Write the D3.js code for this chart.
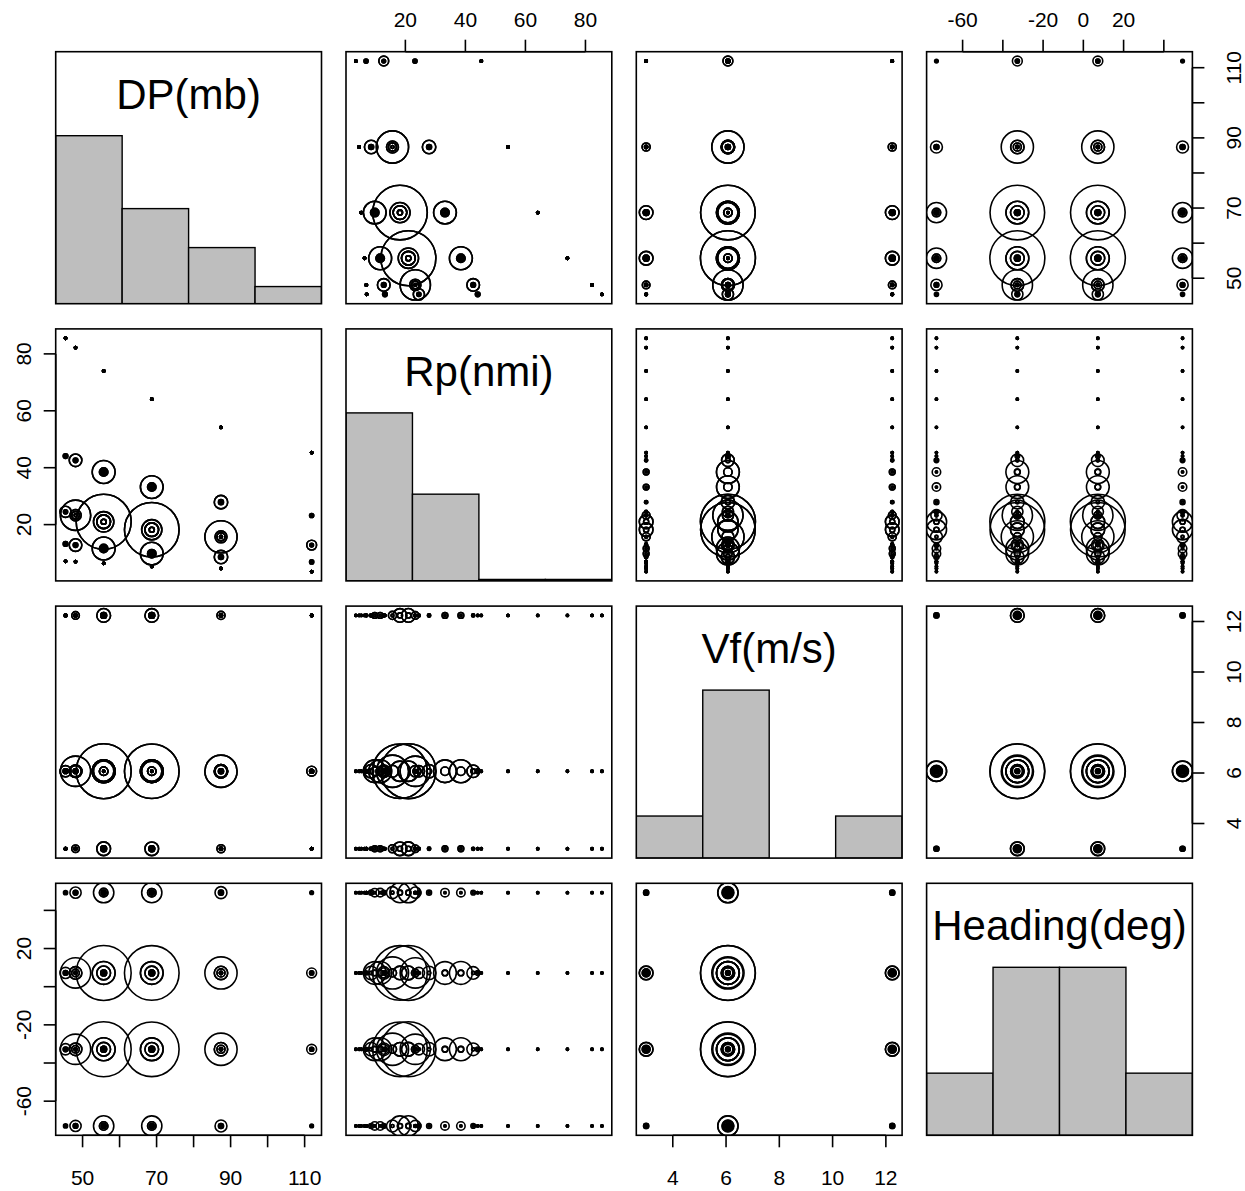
<!DOCTYPE html>
<html>
<head>
<meta charset="utf-8">
<script src="https://cdn.jsdelivr.net/npm/d3@7"></script>
<style>
  body { margin: 0; background: #fff; }
  svg { display: block; }
  text { font-family: "Liberation Sans", Arial, Helvetica, sans-serif; fill: #000; }
</style>
</head>
<body>
<svg id="chart" width="1245" height="1191"></svg>
<script>
// ---- Storm parameter levels and their probability weights ----
const varLabels = ["DP(mb)", "Rp(nmi)", "Vf(m/s)", "Heading(deg)"];

// Central pressure deficit
const dpLevels = [45.4, 48.1, 55.7, 68.7, 87.4, 111.9];
const dpProb   = [0.058, 0.157, 0.285, 0.283, 0.167, 0.051];

// Radius to maximum winds for each DP level (very large, large, median, small, very small)
const rpLevels = [
  [85.5, 44.1, 24.5, 13.2, 7.1],
  [82.2, 42.6, 23.3, 12.8, 7.0],
  [74.0, 38.5, 21.0, 11.6, 6.4],
  [64.1, 33.2, 18.2,  9.8, 5.3],
  [54.2, 27.9, 15.7,  8.6, 4.6],
  [45.3, 23.2, 12.8,  6.9, 3.5]
];
const rpProb = [0.0113, 0.2221, 0.5333, 0.2221, 0.0113];

// Forward speed
const vfLevels = [3.0, 6.07, 12.24];
const vfProb   = [0.167, 0.667, 0.167];

// Track heading
const headingLevels = [-73.0, -32.8, 7.2, 49.3];
const headingProb   = [0.135, 0.365, 0.365, 0.135];

// ---- Axis ticks (blank entries are ticks without a label) ----
const dpTicks = [50, 60, 70, 80, 90, 100, 110];
const dpTickLabels = ["50", "", "70", "", "90", "", "110"];
const rpTicks = [20, 40, 60, 80];
const rpTickLabels = ["20", "40", "60", "80"];
const vfTicks = [4, 6, 8, 10, 12];
const vfTickLabels = ["4", "6", "8", "10", "12"];
const headingTicks = [-60, -40, -20, 0, 20, 40];
const headingTopLabels = ["-60", "", "-20", "0", "20", ""];
const headingLeftLabels = ["-60", "", "-20", "", "20", ""];

// ---- Storm set: every combination of the parameter levels ----
const storms = [];
dpLevels.forEach((dp, i) => rpLevels[i].forEach((rp, j) =>
  vfLevels.forEach((vf, k) => headingLevels.forEach((hd, l) => {
    storms.push({ v: [dp, rp, vf, hd], w: dpProb[i] * rpProb[j] * vfProb[k] * headingProb[l] });
  }))));

const allValues = [dpLevels, rpLevels.flat(), vfLevels, headingLevels];

// ---- Layout ----
const svg = d3.select("#chart");
const n = 4;
const marginLeft = 55.7, marginTop = 51.7, pw = 265.8, ph = 252, dx = 290.3, dy = 277.2;
const tickLen = 12, fsTick = 21, fsLab = 42;

function padded(vals) {
  const [a, b] = d3.extent(vals);
  const p = (b - a) * 0.04;
  return [a - p, b + p];
}
const domains = allValues.map(padded);

const xScale = j => d3.scaleLinear().domain(domains[j]).range([marginLeft + j * dx, marginLeft + j * dx + pw]);
const yScale = i => d3.scaleLinear().domain(domains[i]).range([marginTop + i * dy + ph, marginTop + i * dy]);

const maxW = d3.max(storms, d => d.w);
const rScale = d3.scaleLinear().domain([0, maxW]).range([0, 27.5]);

const defs = svg.append("defs");

for (let i = 0; i < n; i++) {
  for (let j = 0; j < n; j++) {
    const x0 = marginLeft + j * dx, y0 = marginTop + i * dy;
    const g = svg.append("g");
    const clipId = `clip-${i}-${j}`;
    defs.append("clipPath").attr("id", clipId)
      .append("rect").attr("x", x0).attr("y", y0).attr("width", pw).attr("height", ph);
    const body = g.append("g").attr("clip-path", `url(#${clipId})`);

    if (i === j) {
      // weighted histogram of the variable, four equal bins over the panel range
      const x = xScale(j);
      const [d0, d1] = domains[j];
      const edges = d3.range(5).map(k => d0 + (d1 - d0) * k / 4);
      const sums = d3.range(4).map(k => d3.sum(storms.filter(s =>
        s.v[j] >= edges[k] && (k === 3 ? s.v[j] <= edges[k + 1] : s.v[j] < edges[k + 1])), s => s.w));
      const mx = d3.max(sums);
      const yH = d3.scaleLinear().domain([0, 1.5]).range([y0 + ph, y0]);
      body.selectAll("rect.bar").data(sums).join("rect")
        .attr("class", "bar")
        .attr("x", (d, k) => x(edges[k]))
        .attr("width", (d, k) => x(edges[k + 1]) - x(edges[k]))
        .attr("y", d => yH(d / mx))
        .attr("height", d => yH(0) - yH(d / mx))
        .attr("fill", "#bebebe").attr("stroke", "#000").attr("stroke-width", 1.4);
      g.append("text")
        .attr("x", x0 + pw / 2)
        .attr("y", yH(1.25) + 0.36 * fsLab)
        .attr("text-anchor", "middle")
        .attr("font-size", fsLab)
        .text(varLabels[j]);
    } else {
      const x = xScale(j), y = yScale(i);
      body.selectAll("circle").data(storms).join("circle")
        .attr("cx", d => x(d.v[j]))
        .attr("cy", d => y(d.v[i]))
        .attr("r", d => Math.max(rScale(d.w), 1.1))
        .attr("fill", "none").attr("stroke", "#000").attr("stroke-width", 1.6);
    }

    g.append("rect").attr("x", x0).attr("y", y0).attr("width", pw).attr("height", ph)
      .attr("fill", "none").attr("stroke", "#000").attr("stroke-width", 1.6);
  }
}

// ---- Axes in R pairs style (alternating sides) ----
const axisSpecs = [
  { side: "top",    row: 0, col: 1, ticks: rpTicks,      labels: rpTickLabels },
  { side: "top",    row: 0, col: 3, ticks: headingTicks, labels: headingTopLabels },
  { side: "bottom", row: 3, col: 0, ticks: dpTicks,      labels: dpTickLabels },
  { side: "bottom", row: 3, col: 2, ticks: vfTicks,      labels: vfTickLabels },
  { side: "left",   row: 1, col: 0, ticks: rpTicks,      labels: rpTickLabels },
  { side: "left",   row: 3, col: 0, ticks: headingTicks, labels: headingLeftLabels },
  { side: "right",  row: 0, col: 3, ticks: dpTicks,      labels: dpTickLabels },
  { side: "right",  row: 2, col: 3, ticks: vfTicks,      labels: vfTickLabels }
];

axisSpecs.forEach(a => {
  const x0 = marginLeft + a.col * dx, y0 = marginTop + a.row * dy;
  const ag = svg.append("g");
  if (a.side === "top" || a.side === "bottom") {
    const x = xScale(a.col);
    const ya = a.side === "top" ? y0 : y0 + ph;
    const sgn = a.side === "top" ? -1 : 1;
    ag.append("line").attr("x1", x(a.ticks[0])).attr("x2", x(a.ticks[a.ticks.length - 1]))
      .attr("y1", ya).attr("y2", ya).attr("stroke", "#000").attr("stroke-width", 1.6);
    a.ticks.forEach((t, k) => {
      ag.append("line").attr("x1", x(t)).attr("x2", x(t))
        .attr("y1", ya).attr("y2", ya + sgn * tickLen)
        .attr("stroke", "#000").attr("stroke-width", 1.6);
      if (a.labels[k]) {
        ag.append("text").attr("x", x(t))
          .attr("y", a.side === "top" ? ya - 25 : ya + 50)
          .attr("text-anchor", "middle").attr("font-size", fsTick).text(a.labels[k]);
      }
    });
  } else {
    const y = yScale(a.row);
    const xa = a.side === "left" ? x0 : x0 + pw;
    const sgn = a.side === "left" ? -1 : 1;
    ag.append("line").attr("y1", y(a.ticks[0])).attr("y2", y(a.ticks[a.ticks.length - 1]))
      .attr("x1", xa).attr("x2", xa).attr("stroke", "#000").attr("stroke-width", 1.6);
    a.ticks.forEach((t, k) => {
      ag.append("line").attr("y1", y(t)).attr("y2", y(t))
        .attr("x1", xa).attr("x2", xa + sgn * tickLen)
        .attr("stroke", "#000").attr("stroke-width", 1.6);
      if (a.labels[k]) {
        const tx = a.side === "left" ? xa - 25 : xa + 49;
        ag.append("text")
          .attr("transform", `translate(${tx},${y(t)}) rotate(-90)`)
          .attr("text-anchor", "middle").attr("font-size", fsTick).text(a.labels[k]);
      }
    });
  }
});
</script>
</body>
</html>
